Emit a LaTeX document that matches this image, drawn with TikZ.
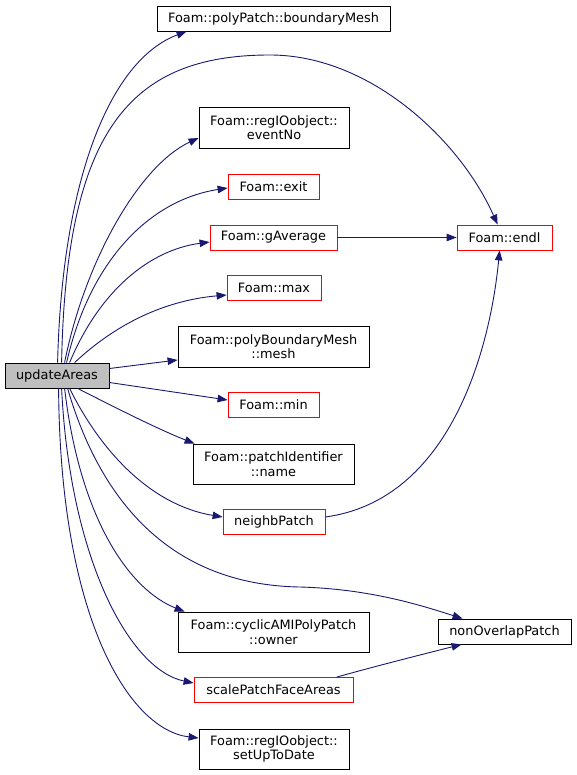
\documentclass[tikz,border=0pt]{standalone}
\usepackage{fontspec}
\setmainfont{DejaVu Sans}
\usetikzlibrary{arrows.meta,calc}
\definecolor{edgecol}{HTML}{191970}
\definecolor{redbox}{HTML}{FF0000}
\definecolor{grayfill}{HTML}{BFBFBF}
\begin{document}
\begin{tikzpicture}[x=1pt,y=-1pt,
  box/.style={draw=black, line width=0.8pt, inner sep=0pt, font=\fontsize{12.9}{14.5}\selectfont, align=center},
  rbox/.style={box, draw=redbox},
  edge/.style={draw=edgecol, line width=0.9pt, -{Triangle[length=10pt,width=7.5pt]}}]
\useasboundingbox (0,0) rectangle (576,775);
% nodes
\node[box, fill=grayfill, minimum width=104pt, minimum height=25pt] (upd) at (57,375.5) {updateAreas};
\node[box, minimum width=233pt, minimum height=25pt] (bm) at (273.5,18.5) {Foam::polyPatch::boundaryMesh};
\node[box, minimum width=150pt, minimum height=41pt] (ev) at (274,127.5) {Foam::regIOobject::\\eventNo};
\node[rbox, minimum width=91pt, minimum height=25pt] (exit) at (273.5,186.5) {Foam::exit};
\node[rbox, minimum width=127pt, minimum height=25pt] (gav) at (273.5,237.5) {Foam::gAverage};
\node[rbox, minimum width=95pt, minimum height=25pt] (endl) at (504.5,237.5) {Foam::endl};
\node[rbox, minimum width=94pt, minimum height=25pt] (max) at (274,288) {Foam::max};
\node[box, minimum width=191pt, minimum height=41pt] (mesh) at (273.5,346.5) {Foam::polyBoundaryMesh\\::mesh};
\node[rbox, minimum width=91pt, minimum height=25pt] (min) at (273.5,405) {Foam::min};
\node[box, minimum width=161pt, minimum height=40pt] (name) at (273.5,464) {Foam::patchIdentifier\\::name};
\node[rbox, minimum width=102pt, minimum height=25pt] (nb) at (274,522) {neighbPatch};
\node[box, minimum width=191pt, minimum height=40pt] (owner) at (273.5,632) {Foam::cyclicAMIPolyPatch\\::owner};
\node[box, minimum width=133pt, minimum height=25pt] (nop) at (504.5,631.5) {nonOverlapPatch};
\node[rbox, minimum width=159pt, minimum height=25pt] (spfa) at (273.5,690) {scalePatchFaceAreas};
\node[box, minimum width=150pt, minimum height=40pt] (sutd) at (274,749) {Foam::regIOobject::\\setUpToDate};
\coordinate (topmid) at (270,55);
\coordinate (lowmid) at (300,587);
% edges
\draw[edge] ($(upd.north west)+(53,0)$) .. controls (62,180) and (110,60) .. ($(bm.south west)+(30,0)$);
\draw[edge] ($(upd.north west)+(57,0)$) .. controls (66,130) and (130,55) .. (topmid) .. controls (370,55) and (460,140) .. ($(endl.north west)+(41,0)$);
\draw[edge] ($(upd.north west)+(60,0)$) .. controls (85,260) and (140,165) .. ($(ev.west)+(0,10.5)$);
\draw[edge] ($(upd.north west)+(62,0)$) .. controls (90,260) and (150,200) .. ($(exit.west)+(0,1.5)$);
\draw[edge] ($(upd.north west)+(65,0)$) .. controls (100,290) and (150,250) .. ($(gav.west)+(0,4.5)$);
\draw[edge] ($(upd.north west)+(70,0)$) .. controls (120,320) and (170,300) .. ($(max.west)+(0,7)$);
\draw[edge] ($(upd.east)+(0,-7)$) -- ($(mesh.west)+(0,13.5)$);
\draw[edge] ($(upd.east)+(0,7)$) -- ($(min.west)+(0,-5)$);
\draw[edge] ($(upd.south west)+(73,0)$) .. controls (120,410) and (160,430) .. ($(name.north west)+(2,0)$);
\draw[edge] ($(upd.south west)+(65,0)$) .. controls (100,450) and (150,505) .. ($(nb.west)+(0,-5)$);
\draw[edge] ($(upd.south west)+(63,0)$) .. controls (100,500) and (170,585) .. (lowmid) .. controls (370,589) and (420,605) .. ($(nop.north west)+(25,0)$);
\draw[edge] ($(upd.south west)+(60,0)$) .. controls (80,520) and (130,590) .. ($(owner.north west)+(7,0)$);
\draw[edge] ($(upd.south west)+(57,0)$) .. controls (70,560) and (130,670) .. ($(spfa.west)+(0,-7)$);
\draw[edge] ($(upd.south west)+(54,0)$) .. controls (60,620) and (130,730) .. ($(sutd.west)+(0,-11)$);
\draw[edge] (gav.east) -- (endl.west);
\draw[edge] ($(nb.east)+(0,-5)$) .. controls (450,500) and (490,350) .. ($(endl.south west)+(43,0)$);
\draw[edge] ($(spfa.north west)+(143,0)$) .. controls (380,665) and (420,655) .. ($(nop.south west)+(24,0)$);
\end{tikzpicture}
\end{document}
